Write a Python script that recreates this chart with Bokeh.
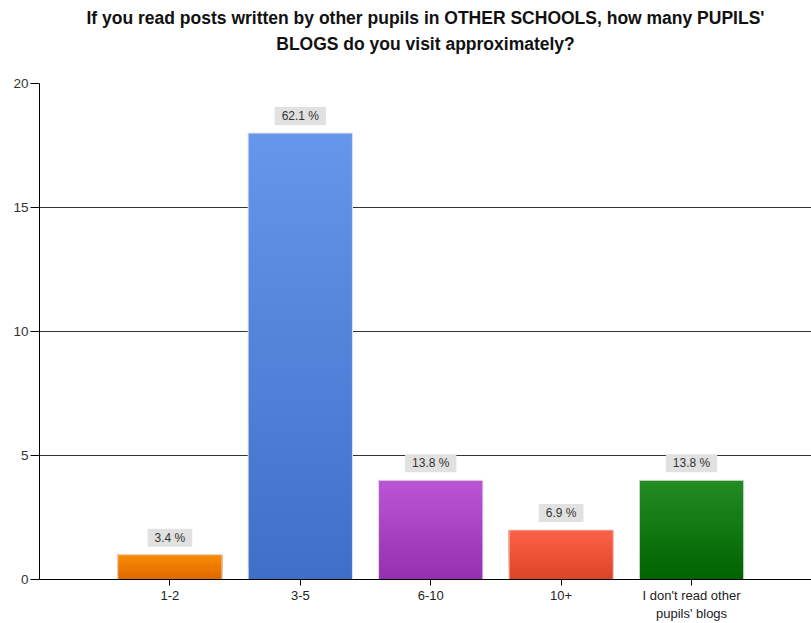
import numpy as np
from bokeh.plotting import figure
from bokeh.models import Range1d, FixedTicker, Title
from bokeh.core.properties import value
from bokeh.embed import file_html
from bokeh.resources import INLINE

# ---- data ----
categories = ["1-2", "3-5", "6-10", "10+", "I don't read other\npupils' blogs"]
counts = [1, 18, 4, 2, 4]
percent_labels = ["3.4 %", "62.1 %", "13.8 %", "6.9 %", "13.8 %"]
top_colors = ["#FA8C05", "#6596EC", "#BA56D4", "#FE6248", "#238B23"]
bottom_colors = ["#DE6900", "#3F6FC6", "#9531AF", "#DC4427", "#006400"]
y_ticks = [0, 5, 10, 15, 20]
title_lines = ["If you read posts written by other pupils in OTHER SCHOOLS, how many PUPILS'",
               "BLOGS do you visit approximately?"]

xs = list(range(1, len(categories) + 1))
FONT = "Liberation Sans"

p = figure(width=811, height=623, output_backend="svg", toolbar_location=None,
           x_range=Range1d(0, 5.92), y_range=Range1d(0, 20),
           min_border_left=39, min_border_right=0, min_border_top=0, min_border_bottom=44)
p.title = None
t2 = Title(text=title_lines[1], align="center", offset=-20,
           text_font=FONT, text_font_size="17.5px", text_font_style="bold",
           text_color="#111111", standoff=0,
           padding=dict(left=0, right=0, top=0, bottom=30))
t1 = Title(text=title_lines[0], align="center", offset=-20,
           text_font=FONT, text_font_size="17.5px", text_font_style="bold",
           text_color="#111111", standoff=0,
           padding=dict(left=0, right=0, top=5, bottom=4))
p.add_layout(t2, "above")
p.add_layout(t1, "above")
p.outline_line_color = None
p.background_fill_color = "white"

# gradient bars: each bar is layered slices (drawn bottom-up, each reaching the bar's top)
N = 40
def hex2rgb(h):
    h = h.lstrip("#")
    return np.array([int(h[i:i + 2], 16) for i in (0, 2, 4)], dtype=float)

for i, (x, c) in enumerate(zip(xs, counts)):
    cb, ct = hex2rgb(bottom_colors[i]), hex2rgb(top_colors[i])
    bots, tops, cols, xx = [], [], [], []
    for k in range(N):
        f = k / (N - 1)
        rgb = cb * (1 - f) + ct * f
        cols.append("#%02x%02x%02x" % tuple(int(round(v)) for v in rgb))
        bots.append(c * k / N)
        tops.append(c)
        xx.append(x)
    p.vbar(x=xx, width=0.8, bottom=bots, top=tops, fill_color=cols, line_color=None)

p.vbar(x=xs, width=0.8, bottom=0, top=counts, fill_color=None,
       line_color="#e2e2e2", line_width=1)

p.text(x=xs, y=counts, text=percent_labels, text_align="center", text_baseline="bottom",
       y_offset=-8, text_font=value(FONT), text_font_size="12px", text_color="#333333",
       background_fill_color="#e1e1e1",
       padding=dict(left=7, right=7, top=2, bottom=2))

# axes
p.xgrid.grid_line_color = None
p.ygrid.grid_line_color = "#333333"
p.ygrid.grid_line_width = 1
p.ygrid.ticker = FixedTicker(ticks=y_ticks)

p.yaxis.ticker = FixedTicker(ticks=y_ticks)
p.yaxis.axis_line_color = "black"
p.yaxis.major_tick_line_color = "black"
p.yaxis.major_tick_out = 9
p.yaxis.major_tick_in = 0
p.yaxis.minor_tick_line_color = None
p.yaxis.major_label_standoff = 2
p.yaxis.major_label_text_font = FONT
p.yaxis.major_label_text_font_size = "13.5px"
p.yaxis.major_label_text_color = "#333333"

p.xaxis.ticker = FixedTicker(ticks=xs)
p.xaxis.major_label_overrides = {x: c for x, c in zip(xs, categories)}
p.xaxis.axis_line_color = "black"
p.xaxis.major_tick_line_color = "black"
p.xaxis.major_tick_out = 6
p.xaxis.major_tick_in = 0
p.xaxis.minor_tick_line_color = None
p.xaxis.major_label_standoff = 2
p.xaxis.major_label_text_font = FONT
p.xaxis.major_label_text_font_size = "13px"
p.xaxis.major_label_text_color = "#222222"

open("out.html", "w").write(file_html(p, INLINE))
